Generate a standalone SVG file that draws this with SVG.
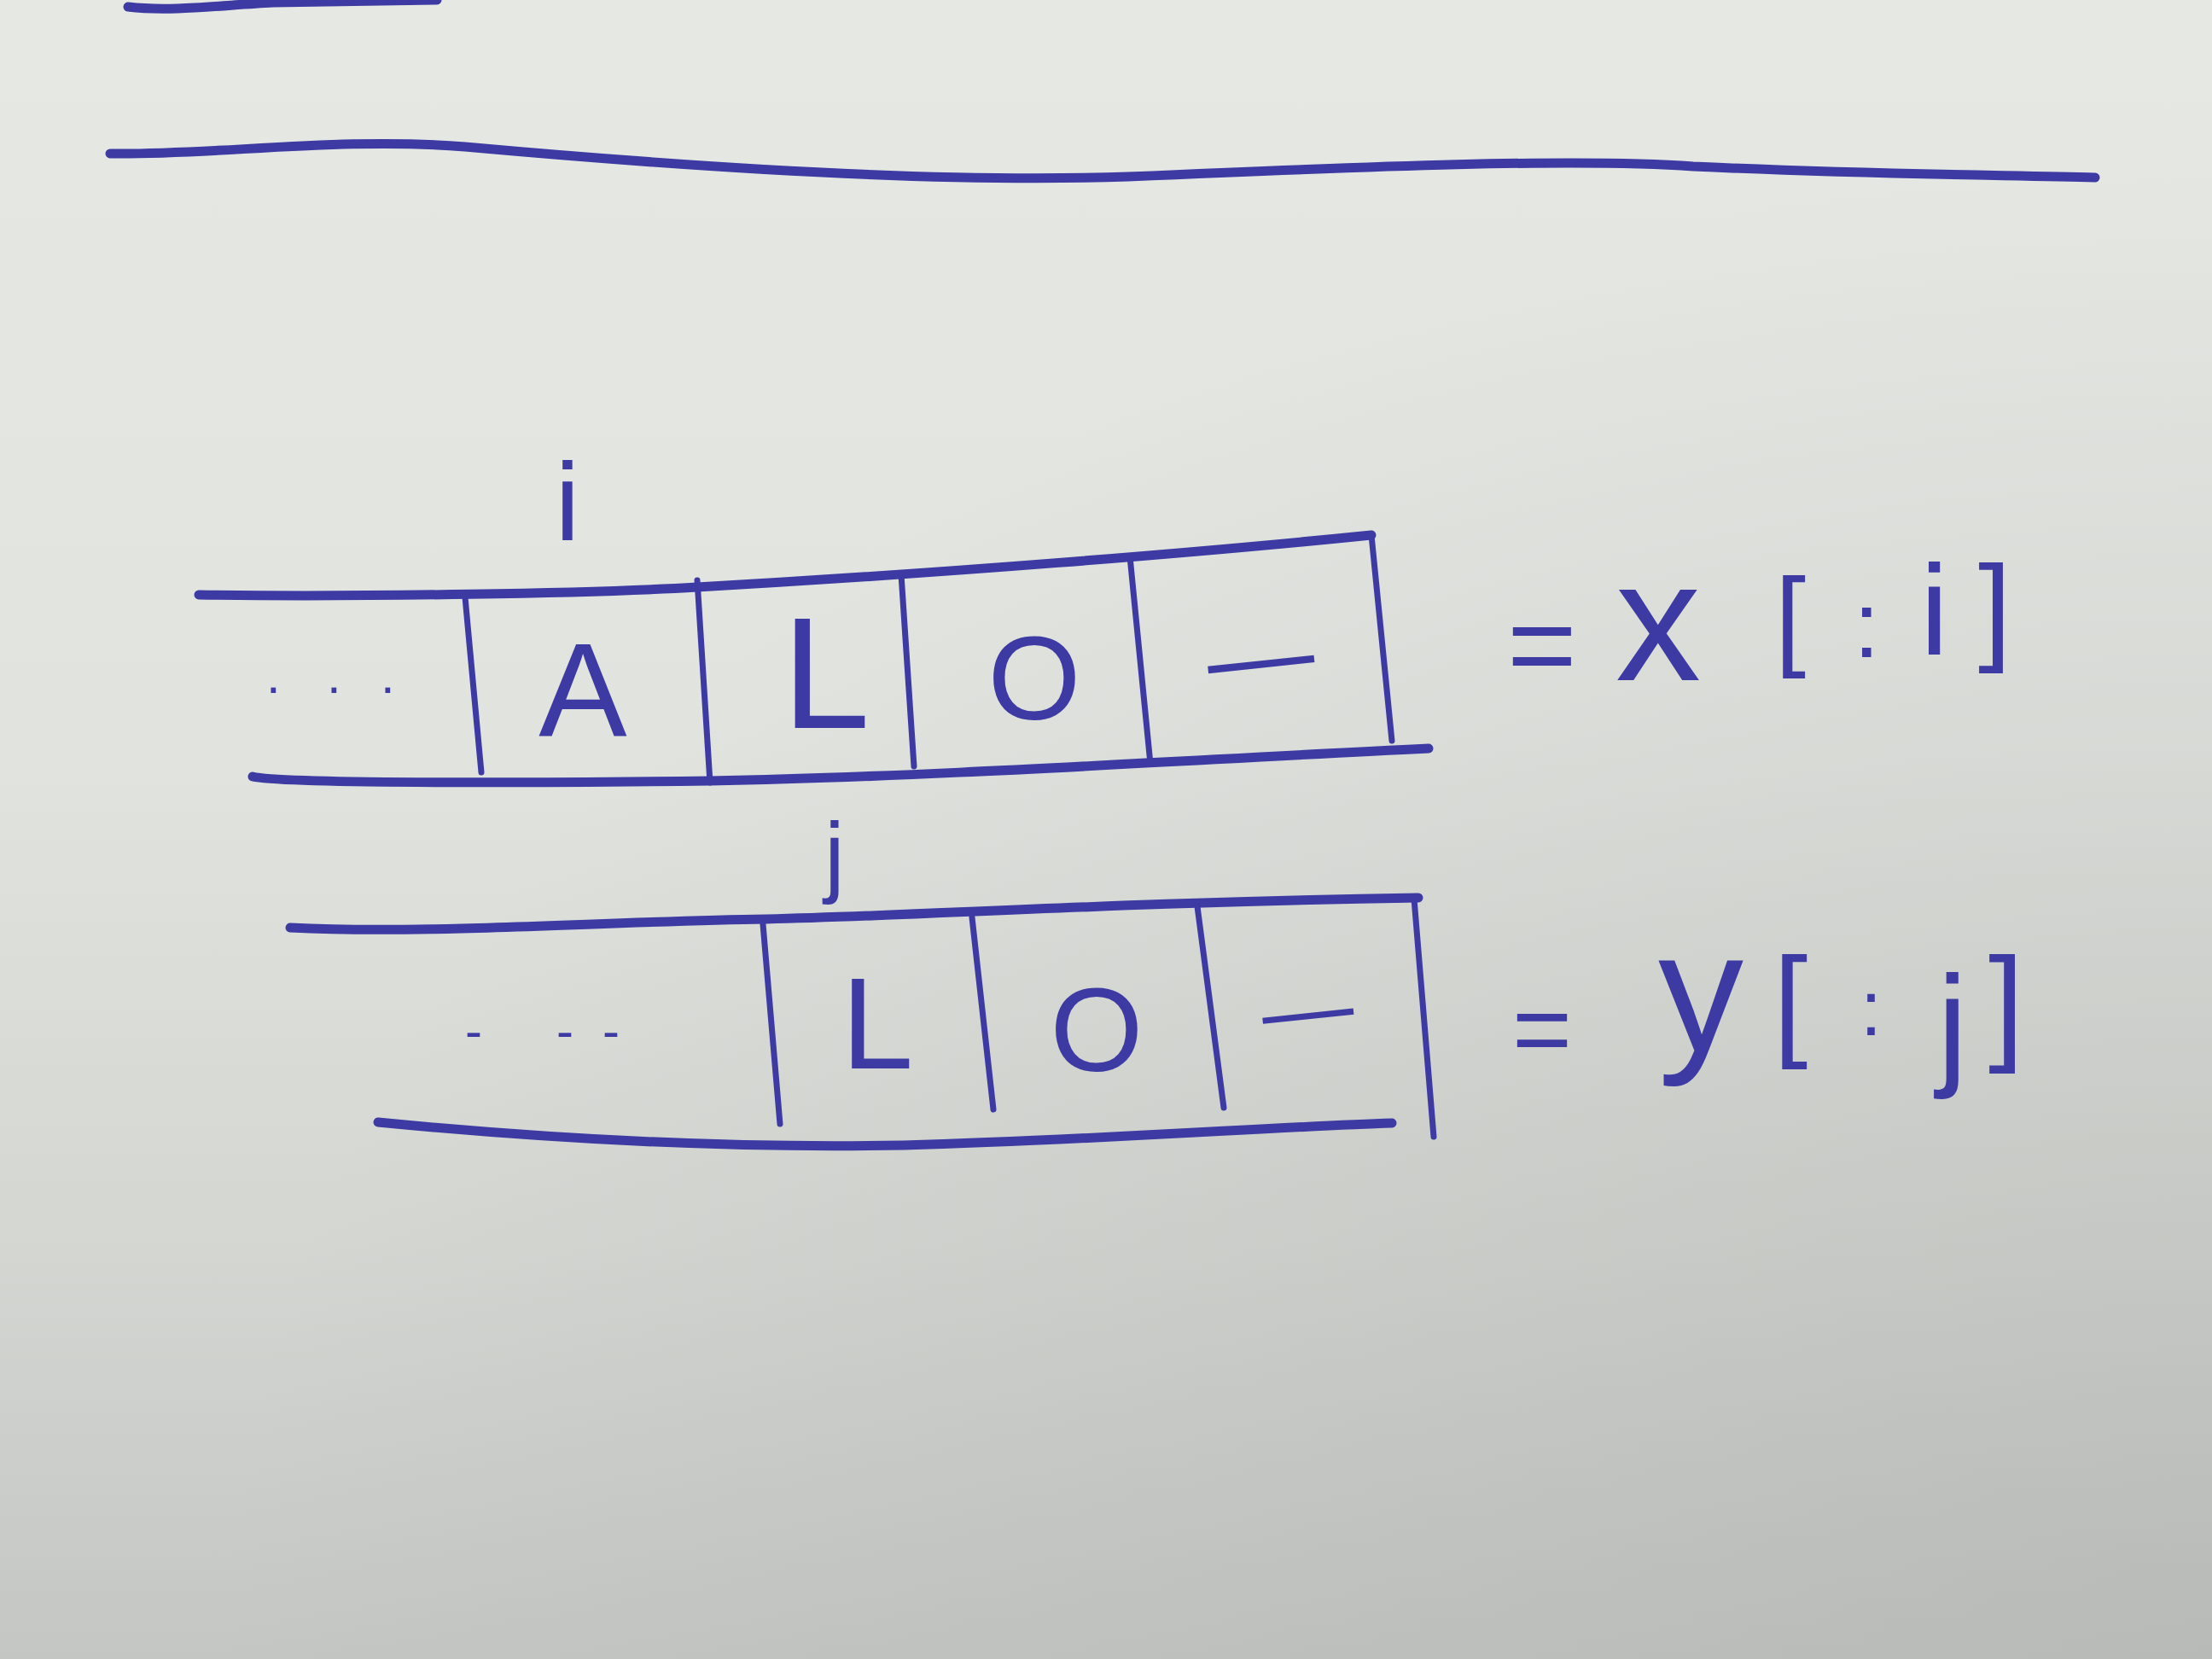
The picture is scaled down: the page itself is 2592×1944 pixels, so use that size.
<svg xmlns="http://www.w3.org/2000/svg" width="2592" height="1944" viewBox="0 0 2592 1944">
<defs>
<linearGradient id="paper" x1="0" y1="0" x2="0" y2="1">
<stop offset="0" stop-color="#e5e8e3"/>
<stop offset="0.45" stop-color="#e0e3de"/>
<stop offset="0.75" stop-color="#d3d6d1"/>
<stop offset="1" stop-color="#c4c6c3"/>
</linearGradient>
<radialGradient id="shade" cx="1" cy="1" r="0.9">
<stop offset="0" stop-color="#a9aba8" stop-opacity="0.45"/>
<stop offset="1" stop-color="#a9aba8" stop-opacity="0"/>
</radialGradient>
<style>
.ink{fill:none;stroke:#3d3aa4;stroke-linecap:round;stroke-linejoin:round}
.h{stroke-width:11}
.v{stroke-width:7}
.t{font-family:"Liberation Sans",Arial,sans-serif;fill:#3d3aa4}
</style>
</defs>
<rect width="2592" height="1944" fill="url(#paper)"/>
<rect width="2592" height="1944" fill="url(#shade)"/>

<g id="rules">
<path class="ink h" d="M150,8 C200,14 260,6 320,3 L512,0"/>
<path class="ink h" d="M129,180 C250,182 400,160 545,172 C800,195 1100,215 1322,207 C1600,195 1850,185 1984,195 C2200,205 2350,205 2455,208"/>
</g>

<g id="row-x">
<path class="ink h" d="M233,697 C420,700 700,695 817,688 C1100,672 1400,648 1607,627"/>
<path class="ink h" d="M296,910 C330,918 600,918 832,915 C1100,910 1400,890 1674,877"/>
<path class="ink v" d="M545,700 L564,905"/>
<path class="ink v" d="M817,680 L832,917"/>
<path class="ink v" d="M1056,673 L1071,898"/>
<path class="ink v" d="M1324,652 L1348,895"/>
<path class="ink v" d="M1607,627 L1631,868"/>
<text class="t" font-size="60" x="312 383 446" y="812">...</text>
<text class="t" font-size="155" x="683" y="862" text-anchor="middle">A</text>
<text class="t" font-size="185" x="968" y="853" text-anchor="middle">L</text>
<text class="t" font-size="140" x="1212" y="843" text-anchor="middle">O</text>
<text class="t" font-size="125" x="1415" y="810" transform="rotate(-6 1478 774)">—</text>
<text class="t" font-size="130" x="665" y="633" text-anchor="middle">i</text>
</g>

<g id="row-y">
<path class="ink h" d="M340,1087 C500,1095 700,1080 898,1077 C1100,1072 1300,1058 1662,1052"/>
<path class="ink h" d="M443,1315 C700,1340 900,1345 1059,1342 C1300,1335 1500,1320 1631,1316"/>
<path class="ink v" d="M894,1083 L914,1317"/>
<path class="ink v" d="M1139,1075 L1164,1300"/>
<path class="ink v" d="M1403,1062 L1434,1298"/>
<path class="ink v" d="M1657,1053 L1680,1332"/>
<text class="t" font-size="60" x="545 652 706" y="1228">---</text>
<text class="t" font-size="152" x="1028" y="1252" text-anchor="middle">L</text>
<text class="t" font-size="140" x="1285" y="1255" text-anchor="middle">O</text>
<text class="t" font-size="107" x="1479" y="1218" transform="rotate(-6 1532 1187)">—</text>
<text class="t" font-size="105" x="978" y="1038" text-anchor="middle">j</text>
</g>

<g id="label-x">
<text class="t"><tspan x="1766" y="803" font-size="140">=</tspan><tspan x="1893" y="797" font-size="200">x</tspan><tspan x="2080" y="768" font-size="130">[</tspan><tspan x="2172" y="770" font-size="110">:</tspan><tspan x="2250" y="767" font-size="150">i</tspan><tspan x="2318" y="760" font-size="140">]</tspan></text>
</g>

<g id="label-y">
<text class="t"><tspan x="1772" y="1247" font-size="120">=</tspan><tspan x="1943" y="1231" font-size="200">y</tspan><tspan x="2078" y="1223" font-size="145">[</tspan><tspan x="2180" y="1213" font-size="90">:</tspan><tspan x="2270" y="1255" font-size="160">j</tspan><tspan x="2330" y="1227" font-size="150">]</tspan></text>
</g>
</svg>
